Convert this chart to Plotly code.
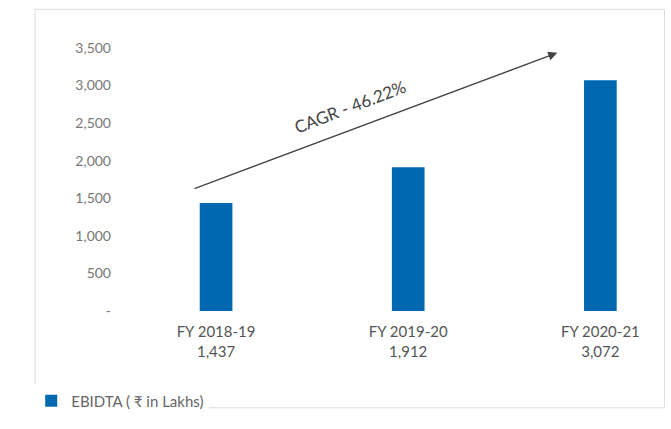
import plotly.graph_objects as go

categories = ["FY 2018-19", "FY 2019-20", "FY 2020-21"]
ebidta = [1437, 1912, 3072]
value_labels = ["1,437", "1,912", "3,072"]
y_tickvals = [0, 500, 1000, 1500, 2000, 2500, 3000, 3500]
y_ticktext = ["-", "500", "1,000", "1,500", "2,000", "2,500", "3,000", "3,500"]
series_name = "EBIDTA ( ₹ in Lakhs)"
cagr_text = "CAGR - 46.22%"

x_idx = list(range(len(categories)))
x_ticktext = [f"{c}<br>{v}" for c, v in zip(categories, value_labels)]

fig = go.Figure()
fig.add_trace(go.Bar(
    x=x_idx, y=ebidta, name=series_name,
    marker=dict(color="#0067b1", line=dict(width=0)),
    width=0.17, showlegend=True,
))

FONT = "Lato, 'Open Sans', sans-serif"

fig.update_layout(
    width=671, height=429,
    margin=dict(l=120, r=13, t=48, b=109),
    paper_bgcolor="white", plot_bgcolor="white",
    font=dict(family=FONT, color="#666", size=14),
    xaxis=dict(
        range=[-0.5, 2.3], tickvals=x_idx, ticktext=x_ticktext,
        showgrid=False, zeroline=False, showline=False, ticks="",
        tickfont=dict(size=15, color="#555"), ticklabelstandoff=10,
    ),
    yaxis=dict(
        range=[0, 3500], tickvals=y_tickvals, ticktext=y_ticktext,
        showgrid=False, zeroline=False, showline=False, ticks="",
        tickfont=dict(size=14, color="#777"), ticklabelstandoff=8,
    ),
    showlegend=True,
    legend=dict(
        orientation="h", x=-0.165, y=-0.342, xanchor="left", yanchor="middle",
        bgcolor="white", font=dict(size=15, color="#666"),
        itemwidth=30,
    ),
    shapes=[dict(
        type="rect", xref="paper", yref="paper",
        x0=-0.158, x1=1.012, y0=-0.368, y1=1.147,
        line=dict(color="#dcdcdc", width=1), layer="below",
    )],
    annotations=[
        dict(
            x=1.776, y=3436, xref="x", yref="y",
            ax=-0.12, ay=1622, axref="x", ayref="y",
            showarrow=True, arrowhead=2, arrowsize=1.4, arrowwidth=1.3,
            arrowcolor="#444", text="",
        ),
        dict(
            x=0.698, y=2728, xref="x", yref="y", text=cagr_text,
            showarrow=False, textangle=-21,
            font=dict(size=17, color="#444", family=FONT),
        ),
    ],
)

fig.write_html("out.html", config={"displayModeBar": False},
               post_script="document.body.style.margin='0';")
